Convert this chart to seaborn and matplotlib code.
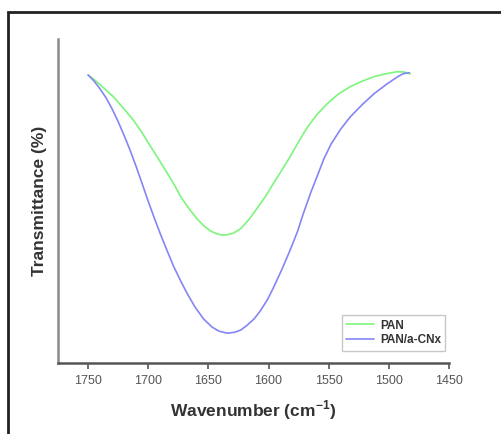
"""FTIR spectra of PAN and PAN/a-CNx around the C=O / C=N band."""

import matplotlib.pyplot as plt
import seaborn as sns
import pandas as pd
from matplotlib.patches import Rectangle

# wavenumber (cm-1) and transmittance (arbitrary %)
pan_wn = [1750, 1745, 1740, 1735, 1729, 1721, 1712, 1705, 1698, 1691, 1684, 1678,
          1673, 1666, 1659, 1653, 1648, 1643, 1639, 1634, 1629, 1623, 1616, 1609,
          1602, 1596, 1589, 1582, 1575, 1568, 1560, 1551, 1542, 1532, 1522, 1512,
          1502, 1493, 1487, 1482]
pan_t = [88.9, 87.5, 85.9, 84.2, 82.2, 78.8, 74.8, 71.0, 66.8, 62.7, 58.5, 54.8,
         51.3, 47.6, 44.3, 42.1, 40.7, 39.9, 39.5, 39.6, 40.1, 41.5, 44.4, 48.0,
         51.7, 55.4, 59.5, 63.7, 68.3, 72.6, 76.6, 80.1, 83.0, 85.3, 87.0, 88.4,
         89.3, 89.9, 89.8, 89.2]

cnx_wn = [1750, 1745, 1740, 1735, 1730, 1725, 1720, 1715, 1710, 1705, 1700, 1695,
          1690, 1684, 1679, 1673, 1668, 1661, 1654, 1647, 1641, 1634, 1628, 1623,
          1618, 1612, 1607, 1601, 1596, 1589, 1582, 1576, 1571, 1565, 1559, 1554,
          1548, 1540, 1532, 1522, 1512, 1502, 1493, 1488, 1483]
cnx_t = [88.9, 87.0, 84.6, 81.8, 78.4, 74.5, 70.2, 65.6, 60.6, 55.3, 49.9, 44.8,
         39.9, 34.4, 29.9, 25.3, 21.7, 17.2, 13.6, 11.1, 9.8, 9.2, 9.5, 10.2,
         11.6, 13.6, 16.0, 19.5, 23.2, 28.8, 34.9, 40.5, 46.2, 52.5, 58.2, 63.0,
         67.6, 72.2, 76.0, 79.8, 83.2, 86.0, 88.3, 89.3, 89.6]

labels = ["PAN", "PAN/a-CNx"]
colors = ["#7CF57C", "#8585F5"]
x_ticks = [1750, 1700, 1650, 1600, 1550, 1500, 1450]

df = pd.concat([
    pd.DataFrame({"wn": pan_wn, "T": pan_t, "sample": labels[0]}),
    pd.DataFrame({"wn": cnx_wn, "T": cnx_t, "sample": labels[1]}),
])

sns.set_style("white")
plt.rcParams["font.family"] = ["Liberation Sans", "DejaVu Sans"]
plt.rcParams["mathtext.fontset"] = "custom"
plt.rcParams["mathtext.rm"] = "Liberation Sans"
plt.rcParams["mathtext.bf"] = "Liberation Sans:bold"

fig = plt.figure(figsize=(5.01, 4.34), dpi=100)
ax = fig.add_axes([58 / 501, 1 - 363 / 434, (449 - 58) / 501, (363 - 39) / 434])

sns.lineplot(data=df, x="wn", y="T", hue="sample", palette=colors, sort=False,
             estimator=None, linewidth=1.2, ax=ax)

ax.set_xlim(1775, 1450)
ax.set_ylim(0, 100)
ax.set_xticks(x_ticks)
ax.set_yticks([])
ax.tick_params(axis="x", direction="out", length=4, width=1.2, color="#555555",
               labelsize=9, labelcolor="#555555", pad=5, bottom=True)
for side in ["top", "right"]:
    ax.spines[side].set_visible(False)
ax.spines["left"].set_color("#8a8a8a")
ax.spines["left"].set_linewidth(1.8)
ax.spines["bottom"].set_color("#555555")
ax.spines["bottom"].set_linewidth(1.8)

ax.set_xlabel("Wavenumber (cm$^{\\mathbf{-1}}$)", fontsize=12.5, fontweight="bold",
              color="#333333", labelpad=8)
ax.set_ylabel("Transmittance (%)", fontsize=12.5, fontweight="bold", color="#333333",
              labelpad=8)

leg = ax.legend(loc="lower right", bbox_to_anchor=(1.005, 0.02), frameon=True,
                fancybox=False, fontsize=8.5, handlelength=2.4, handletextpad=0.5,
                borderpad=0.35, labelspacing=0.25)
leg.get_frame().set_edgecolor("#bbbbbb")
leg.get_frame().set_linewidth(1.0)
for t in leg.get_texts():
    t.set_fontweight("bold")
    t.set_color("#333333")

# outer frame of the original figure panel
fig.patches.append(Rectangle((8 / 501, -0.2), 1.2, 1.2 - 12 / 434,
                             transform=fig.transFigure, fill=False,
                             edgecolor="#222222", linewidth=2))

fig.savefig("out.png", dpi=100)
plt.close(fig)
